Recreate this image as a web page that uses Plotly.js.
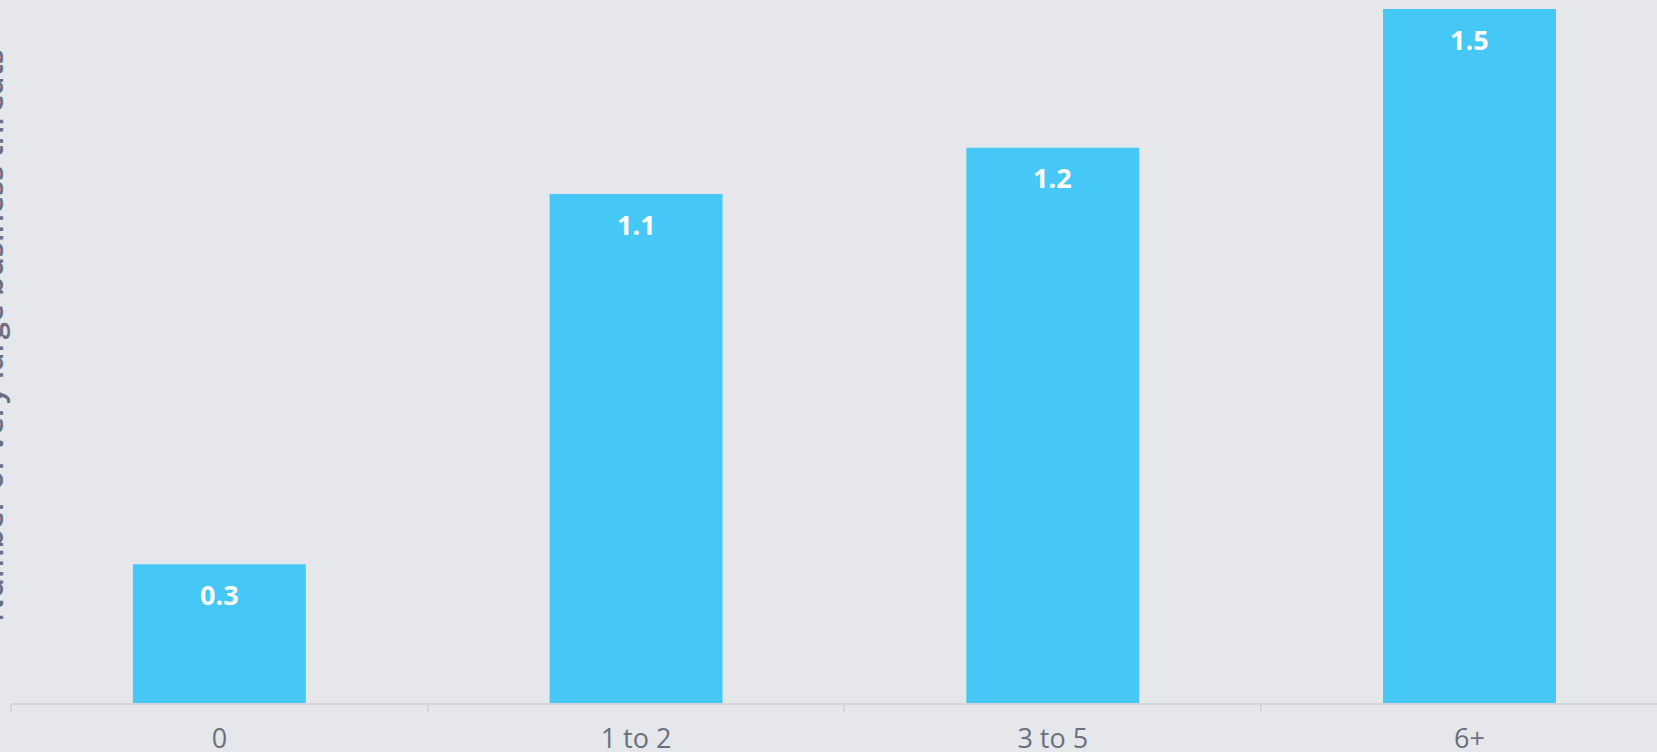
<!DOCTYPE html>
<html>
<head>
<meta charset="utf-8">
<script src="https://cdn.plot.ly/plotly-3.0.1.min.js"></script>
<style>
  html, body { margin: 0; padding: 0; background: #e5e7eb; }
  #chart { width: 1657px; height: 752px; }
</style>
</head>
<body>
<div id="chart"></div>
<script>
const categories = ['0', '1 to 2', '3 to 5', '6+'];
const values = [0.3, 1.1, 1.2, 1.5];
const valueLabels = ['0.3', '1.1', '1.2', '1.5'];
const yTitle = 'Number of very large business threats';

const barColor = '#45c8f6';
const bg = '#e5e7eb';
const axisGrey = '#d2d5db';
const textGrey = '#6b7080';
const fontFamily = '"Open Sans", "Noto Sans", sans-serif';

const trace = {
  type: 'bar',
  x: categories,
  y: values,
  marker: { color: barColor, line: { width: 0 } },
  hoverinfo: 'none'
};

const labelAnnotations = categories.map((c, i) => ({
  x: c,
  y: values[i],
  xref: 'x',
  yref: 'y',
  text: valueLabels[i],
  showarrow: false,
  yanchor: 'middle',
  yshift: -30,
  font: { family: fontFamily, size: 27, color: '#ffffff', weight: 700 }
}));

const titleAnnotation = {
  xref: 'paper',
  yref: 'paper',
  x: 0,
  y: 0.5,
  xanchor: 'right',
  yanchor: 'middle',
  xshift: 3,
  yshift: 20,
  textangle: -90,
  text: yTitle,
  showarrow: false,
  font: { family: fontFamily, size: 31, color: textGrey, weight: 600 }
};

const layout = {
  width: 1657,
  height: 752,
  paper_bgcolor: bg,
  plot_bgcolor: bg,
  margin: { l: 11, r: 0, t: 9, b: 49, pad: 0 },
  showlegend: false,
  bargap: 0.585,
  font: { family: fontFamily, color: textGrey },
  xaxis: {
    type: 'category',
    range: [-0.5, 3.45],
    tickson: 'boundaries',
    ticks: 'outside',
    ticklen: 7,
    tickwidth: 2,
    tickcolor: axisGrey,
    ticklabelstandoff: 11,
    showline: true,
    linecolor: axisGrey,
    linewidth: 2,
    showgrid: false,
    zeroline: false,
    tickfont: { family: fontFamily, size: 27, color: textGrey },
    fixedrange: true
  },
  yaxis: {
    range: [0, 1.5],
    showgrid: false,
    zeroline: false,
    showline: false,
    showticklabels: false,
    ticks: '',
    fixedrange: true
  },
  annotations: labelAnnotations.concat([titleAnnotation])
};

Plotly.newPlot('chart', [trace], layout, { displayModeBar: false, staticPlot: true });
</script>
</body>
</html>
